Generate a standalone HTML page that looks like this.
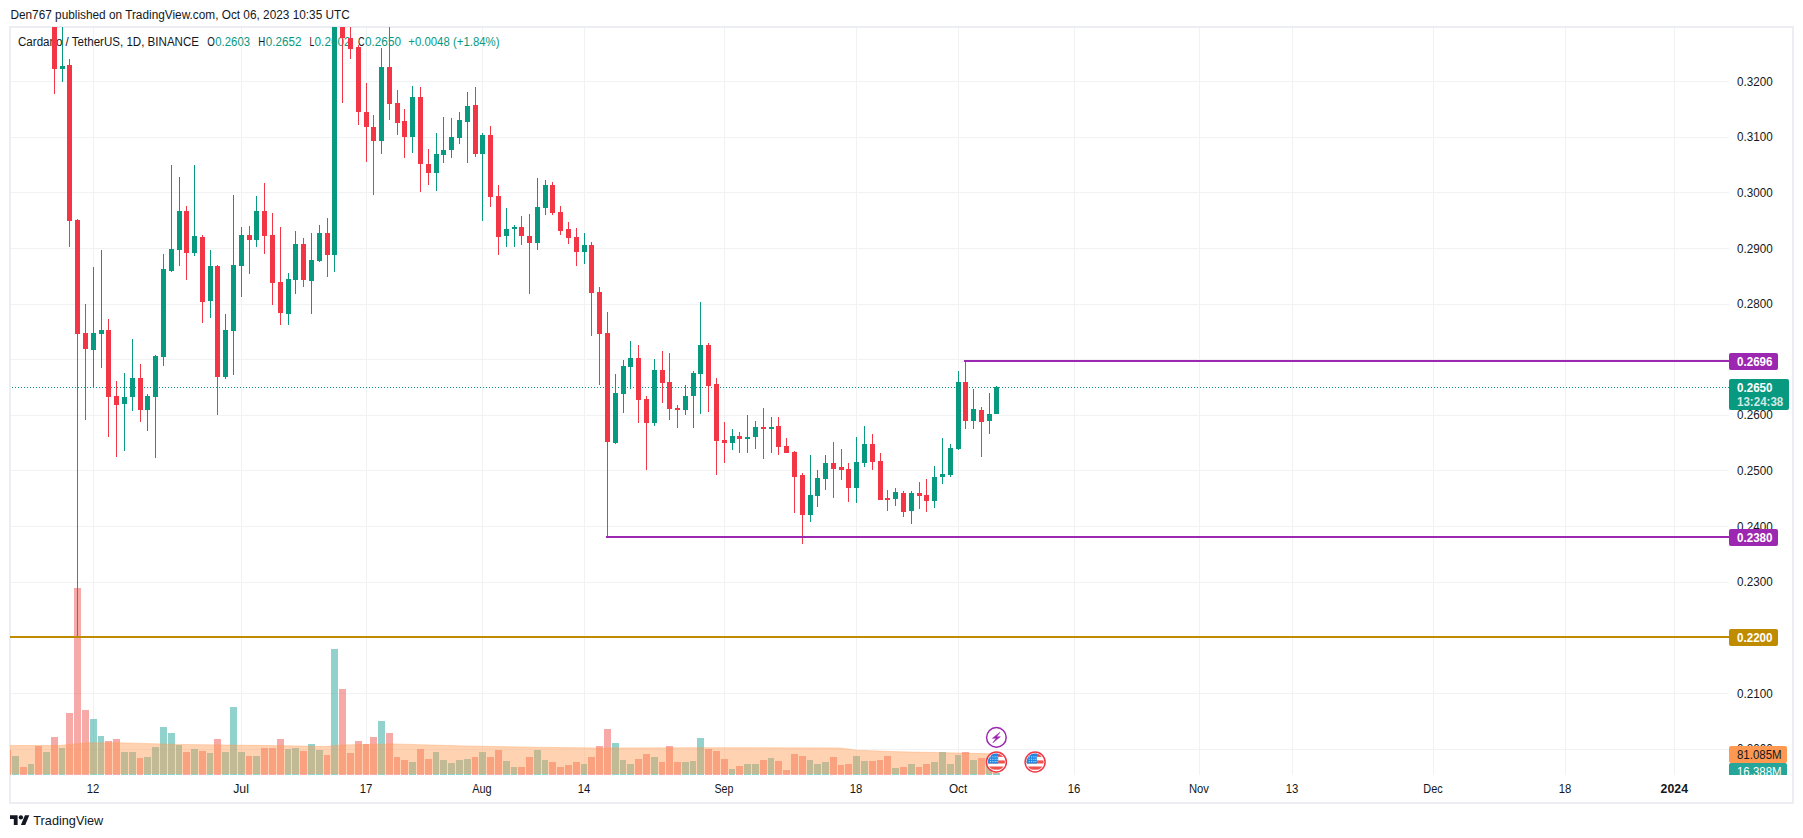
<!DOCTYPE html>
<html lang="en"><head><meta charset="utf-8"><title>Cardano / TetherUS chart</title>
<style>html,body{margin:0;padding:0;background:#fff;}body{width:1803px;height:838px;overflow:hidden;}svg{display:block;}</style>
</head><body>
<svg width="1803" height="838" viewBox="0 0 1803 838" font-family="'Liberation Sans', sans-serif" font-size="12">
<rect width="1803" height="838" fill="#fff"/>
<defs>
<clipPath id="pane"><rect x="10" y="27" width="1719" height="748"/></clipPath>
<clipPath id="axisclip"><rect x="1729" y="28" width="63" height="747"/></clipPath>
<clipPath id="flagclip"><circle cx="0" cy="0" r="8.5"/></clipPath>
</defs>
<text x="10.4" y="18.7" fill="#131722" textLength="339.4" lengthAdjust="spacingAndGlyphs">Den767 published on TradingView.com, Oct 06, 2023 10:35 UTC</text>
<rect x="10" y="27" width="1783" height="776" fill="none" stroke="#eceef3" stroke-width="2"/>
<g shape-rendering="crispEdges" fill="#f0f2f4">
<rect x="93" y="28" width="1" height="747"/>
<rect x="241" y="28" width="1" height="747"/>
<rect x="366" y="28" width="1" height="747"/>
<rect x="482" y="28" width="1" height="747"/>
<rect x="584" y="28" width="1" height="747"/>
<rect x="724" y="28" width="1" height="747"/>
<rect x="856" y="28" width="1" height="747"/>
<rect x="958" y="28" width="1" height="747"/>
<rect x="1074" y="28" width="1" height="747"/>
<rect x="1199" y="28" width="1" height="747"/>
<rect x="1292" y="28" width="1" height="747"/>
<rect x="1433" y="28" width="1" height="747"/>
<rect x="1565" y="28" width="1" height="747"/>
<rect x="1674" y="28" width="1" height="747"/>
<rect x="11" y="81" width="1718" height="1"/>
<rect x="11" y="137" width="1718" height="1"/>
<rect x="11" y="192" width="1718" height="1"/>
<rect x="11" y="248" width="1718" height="1"/>
<rect x="11" y="304" width="1718" height="1"/>
<rect x="11" y="359" width="1718" height="1"/>
<rect x="11" y="415" width="1718" height="1"/>
<rect x="11" y="470" width="1718" height="1"/>
<rect x="11" y="526" width="1718" height="1"/>
<rect x="11" y="582" width="1718" height="1"/>
<rect x="11" y="637" width="1718" height="1"/>
<rect x="11" y="693" width="1718" height="1"/>
<rect x="11" y="749" width="1718" height="1"/>
</g>
<text x="18" y="45.9" fill="#131722" textLength="181" lengthAdjust="spacingAndGlyphs">Cardano / TetherUS, 1D, BINANCE</text>
<text x="207.2" y="45.9" fill="#131722" textLength="7.6" lengthAdjust="spacingAndGlyphs">O</text>
<text x="215.3" y="45.9" fill="#089981" textLength="34.7" lengthAdjust="spacingAndGlyphs">0.2603</text>
<text x="258.3" y="45.9" fill="#131722" textLength="7.0" lengthAdjust="spacingAndGlyphs">H</text>
<text x="265.8" y="45.9" fill="#089981" textLength="35.6" lengthAdjust="spacingAndGlyphs">0.2652</text>
<text x="309.4" y="45.9" fill="#131722" textLength="4.8" lengthAdjust="spacingAndGlyphs">L</text>
<text x="314.6" y="45.9" fill="#089981" textLength="35.9" lengthAdjust="spacingAndGlyphs">0.2602</text>
<text x="358" y="45.9" fill="#131722" textLength="6.6" lengthAdjust="spacingAndGlyphs">C</text>
<text x="365" y="45.9" fill="#089981" textLength="36" lengthAdjust="spacingAndGlyphs">0.2650</text>
<text x="408.3" y="45.9" fill="#089981" textLength="91.2" lengthAdjust="spacingAndGlyphs">+0.0048 (+1.84%)</text>
<g clip-path="url(#pane)">
<g shape-rendering="crispEdges">
<rect x="4" y="750" width="7" height="25" fill="rgba(239,83,80,0.5)"/>
<rect x="12" y="756" width="7" height="19" fill="rgba(38,166,154,0.5)"/>
<rect x="20" y="767" width="7" height="8" fill="rgba(239,83,80,0.5)"/>
<rect x="28" y="764" width="6" height="11" fill="rgba(38,166,154,0.5)"/>
<rect x="35" y="746" width="7" height="29" fill="rgba(239,83,80,0.5)"/>
<rect x="43" y="752" width="7" height="23" fill="rgba(38,166,154,0.5)"/>
<rect x="51" y="737" width="7" height="38" fill="rgba(239,83,80,0.5)"/>
<rect x="59" y="748" width="6" height="27" fill="rgba(38,166,154,0.5)"/>
<rect x="66" y="713" width="7" height="62" fill="rgba(239,83,80,0.5)"/>
<rect x="74" y="588" width="7" height="187" fill="rgba(239,83,80,0.5)"/>
<rect x="82" y="710" width="7" height="65" fill="rgba(239,83,80,0.5)"/>
<rect x="90" y="719" width="7" height="56" fill="rgba(38,166,154,0.5)"/>
<rect x="98" y="736" width="6" height="39" fill="rgba(38,166,154,0.5)"/>
<rect x="105" y="741" width="7" height="34" fill="rgba(239,83,80,0.5)"/>
<rect x="113" y="739" width="7" height="36" fill="rgba(239,83,80,0.5)"/>
<rect x="121" y="752" width="7" height="23" fill="rgba(38,166,154,0.5)"/>
<rect x="129" y="752" width="7" height="23" fill="rgba(38,166,154,0.5)"/>
<rect x="137" y="758" width="6" height="17" fill="rgba(239,83,80,0.5)"/>
<rect x="144" y="757" width="7" height="18" fill="rgba(38,166,154,0.5)"/>
<rect x="152" y="747" width="7" height="28" fill="rgba(38,166,154,0.5)"/>
<rect x="160" y="727" width="7" height="48" fill="rgba(38,166,154,0.5)"/>
<rect x="168" y="733" width="7" height="42" fill="rgba(38,166,154,0.5)"/>
<rect x="176" y="745" width="6" height="30" fill="rgba(38,166,154,0.5)"/>
<rect x="183" y="752" width="7" height="23" fill="rgba(239,83,80,0.5)"/>
<rect x="191" y="749" width="7" height="26" fill="rgba(38,166,154,0.5)"/>
<rect x="199" y="751" width="7" height="24" fill="rgba(239,83,80,0.5)"/>
<rect x="207" y="753" width="6" height="22" fill="rgba(38,166,154,0.5)"/>
<rect x="214" y="739" width="7" height="36" fill="rgba(239,83,80,0.5)"/>
<rect x="222" y="752" width="7" height="23" fill="rgba(38,166,154,0.5)"/>
<rect x="230" y="707" width="7" height="68" fill="rgba(38,166,154,0.5)"/>
<rect x="238" y="752" width="7" height="23" fill="rgba(38,166,154,0.5)"/>
<rect x="246" y="756" width="6" height="19" fill="rgba(239,83,80,0.5)"/>
<rect x="253" y="756" width="7" height="19" fill="rgba(38,166,154,0.5)"/>
<rect x="261" y="748" width="7" height="27" fill="rgba(239,83,80,0.5)"/>
<rect x="269" y="748" width="7" height="27" fill="rgba(239,83,80,0.5)"/>
<rect x="277" y="739" width="7" height="36" fill="rgba(239,83,80,0.5)"/>
<rect x="285" y="749" width="6" height="26" fill="rgba(38,166,154,0.5)"/>
<rect x="292" y="748" width="7" height="27" fill="rgba(38,166,154,0.5)"/>
<rect x="300" y="751" width="7" height="24" fill="rgba(239,83,80,0.5)"/>
<rect x="308" y="744" width="7" height="31" fill="rgba(38,166,154,0.5)"/>
<rect x="316" y="750" width="7" height="25" fill="rgba(38,166,154,0.5)"/>
<rect x="324" y="755" width="6" height="20" fill="rgba(239,83,80,0.5)"/>
<rect x="331" y="649" width="7" height="126" fill="rgba(38,166,154,0.5)"/>
<rect x="339" y="689" width="7" height="86" fill="rgba(239,83,80,0.5)"/>
<rect x="347" y="753" width="7" height="22" fill="rgba(239,83,80,0.5)"/>
<rect x="355" y="741" width="7" height="34" fill="rgba(239,83,80,0.5)"/>
<rect x="363" y="744" width="6" height="31" fill="rgba(239,83,80,0.5)"/>
<rect x="370" y="737" width="7" height="38" fill="rgba(239,83,80,0.5)"/>
<rect x="378" y="721" width="7" height="54" fill="rgba(38,166,154,0.5)"/>
<rect x="386" y="733" width="7" height="42" fill="rgba(239,83,80,0.5)"/>
<rect x="394" y="757" width="6" height="18" fill="rgba(239,83,80,0.5)"/>
<rect x="401" y="760" width="7" height="15" fill="rgba(239,83,80,0.5)"/>
<rect x="409" y="762" width="7" height="13" fill="rgba(38,166,154,0.5)"/>
<rect x="417" y="749" width="7" height="26" fill="rgba(239,83,80,0.5)"/>
<rect x="425" y="759" width="7" height="16" fill="rgba(239,83,80,0.5)"/>
<rect x="433" y="752" width="6" height="23" fill="rgba(38,166,154,0.5)"/>
<rect x="440" y="760" width="7" height="15" fill="rgba(38,166,154,0.5)"/>
<rect x="448" y="763" width="7" height="12" fill="rgba(38,166,154,0.5)"/>
<rect x="456" y="760" width="7" height="15" fill="rgba(38,166,154,0.5)"/>
<rect x="464" y="759" width="7" height="16" fill="rgba(38,166,154,0.5)"/>
<rect x="472" y="757" width="6" height="18" fill="rgba(239,83,80,0.5)"/>
<rect x="479" y="752" width="7" height="23" fill="rgba(38,166,154,0.5)"/>
<rect x="487" y="757" width="7" height="18" fill="rgba(239,83,80,0.5)"/>
<rect x="495" y="750" width="7" height="25" fill="rgba(239,83,80,0.5)"/>
<rect x="503" y="761" width="7" height="14" fill="rgba(38,166,154,0.5)"/>
<rect x="511" y="767" width="6" height="8" fill="rgba(38,166,154,0.5)"/>
<rect x="518" y="767" width="7" height="8" fill="rgba(239,83,80,0.5)"/>
<rect x="526" y="757" width="7" height="18" fill="rgba(239,83,80,0.5)"/>
<rect x="534" y="750" width="7" height="25" fill="rgba(38,166,154,0.5)"/>
<rect x="542" y="760" width="6" height="15" fill="rgba(38,166,154,0.5)"/>
<rect x="549" y="762" width="7" height="13" fill="rgba(239,83,80,0.5)"/>
<rect x="557" y="767" width="7" height="8" fill="rgba(239,83,80,0.5)"/>
<rect x="565" y="765" width="7" height="10" fill="rgba(239,83,80,0.5)"/>
<rect x="573" y="762" width="7" height="13" fill="rgba(239,83,80,0.5)"/>
<rect x="581" y="764" width="6" height="11" fill="rgba(38,166,154,0.5)"/>
<rect x="588" y="757" width="7" height="18" fill="rgba(239,83,80,0.5)"/>
<rect x="596" y="746" width="7" height="29" fill="rgba(239,83,80,0.5)"/>
<rect x="604" y="729" width="7" height="46" fill="rgba(239,83,80,0.5)"/>
<rect x="612" y="743" width="7" height="32" fill="rgba(38,166,154,0.5)"/>
<rect x="620" y="760" width="6" height="15" fill="rgba(38,166,154,0.5)"/>
<rect x="627" y="764" width="7" height="11" fill="rgba(38,166,154,0.5)"/>
<rect x="635" y="759" width="7" height="16" fill="rgba(239,83,80,0.5)"/>
<rect x="643" y="754" width="7" height="21" fill="rgba(239,83,80,0.5)"/>
<rect x="651" y="757" width="7" height="18" fill="rgba(38,166,154,0.5)"/>
<rect x="659" y="762" width="6" height="13" fill="rgba(239,83,80,0.5)"/>
<rect x="666" y="746" width="7" height="29" fill="rgba(239,83,80,0.5)"/>
<rect x="674" y="762" width="7" height="13" fill="rgba(239,83,80,0.5)"/>
<rect x="682" y="762" width="7" height="13" fill="rgba(38,166,154,0.5)"/>
<rect x="690" y="761" width="6" height="14" fill="rgba(38,166,154,0.5)"/>
<rect x="697" y="738" width="7" height="37" fill="rgba(38,166,154,0.5)"/>
<rect x="705" y="749" width="7" height="26" fill="rgba(239,83,80,0.5)"/>
<rect x="713" y="751" width="7" height="24" fill="rgba(239,83,80,0.5)"/>
<rect x="721" y="759" width="7" height="16" fill="rgba(239,83,80,0.5)"/>
<rect x="729" y="769" width="6" height="6" fill="rgba(38,166,154,0.5)"/>
<rect x="736" y="766" width="7" height="9" fill="rgba(239,83,80,0.5)"/>
<rect x="744" y="764" width="7" height="11" fill="rgba(38,166,154,0.5)"/>
<rect x="752" y="764" width="7" height="11" fill="rgba(38,166,154,0.5)"/>
<rect x="760" y="760" width="7" height="15" fill="rgba(239,83,80,0.5)"/>
<rect x="768" y="758" width="6" height="17" fill="rgba(38,166,154,0.5)"/>
<rect x="775" y="761" width="7" height="14" fill="rgba(239,83,80,0.5)"/>
<rect x="783" y="770" width="7" height="5" fill="rgba(239,83,80,0.5)"/>
<rect x="791" y="754" width="7" height="21" fill="rgba(239,83,80,0.5)"/>
<rect x="799" y="756" width="7" height="19" fill="rgba(239,83,80,0.5)"/>
<rect x="807" y="760" width="6" height="15" fill="rgba(38,166,154,0.5)"/>
<rect x="814" y="764" width="7" height="11" fill="rgba(38,166,154,0.5)"/>
<rect x="822" y="762" width="7" height="13" fill="rgba(38,166,154,0.5)"/>
<rect x="830" y="757" width="7" height="18" fill="rgba(239,83,80,0.5)"/>
<rect x="838" y="765" width="6" height="10" fill="rgba(239,83,80,0.5)"/>
<rect x="845" y="764" width="7" height="11" fill="rgba(239,83,80,0.5)"/>
<rect x="853" y="756" width="7" height="19" fill="rgba(38,166,154,0.5)"/>
<rect x="861" y="761" width="7" height="14" fill="rgba(38,166,154,0.5)"/>
<rect x="869" y="761" width="7" height="14" fill="rgba(239,83,80,0.5)"/>
<rect x="877" y="760" width="6" height="15" fill="rgba(239,83,80,0.5)"/>
<rect x="884" y="756" width="7" height="19" fill="rgba(239,83,80,0.5)"/>
<rect x="892" y="768" width="7" height="7" fill="rgba(38,166,154,0.5)"/>
<rect x="900" y="767" width="7" height="8" fill="rgba(239,83,80,0.5)"/>
<rect x="908" y="764" width="7" height="11" fill="rgba(38,166,154,0.5)"/>
<rect x="916" y="767" width="6" height="8" fill="rgba(239,83,80,0.5)"/>
<rect x="923" y="764" width="7" height="11" fill="rgba(239,83,80,0.5)"/>
<rect x="931" y="762" width="7" height="13" fill="rgba(38,166,154,0.5)"/>
<rect x="939" y="752" width="7" height="23" fill="rgba(38,166,154,0.5)"/>
<rect x="947" y="764" width="7" height="11" fill="rgba(38,166,154,0.5)"/>
<rect x="955" y="755" width="6" height="20" fill="rgba(38,166,154,0.5)"/>
<rect x="962" y="752" width="7" height="23" fill="rgba(239,83,80,0.5)"/>
<rect x="970" y="760" width="7" height="15" fill="rgba(38,166,154,0.5)"/>
<rect x="978" y="758" width="7" height="17" fill="rgba(239,83,80,0.5)"/>
<rect x="986" y="758" width="6" height="17" fill="rgba(38,166,154,0.5)"/>
<rect x="993" y="773" width="7" height="2" fill="rgba(38,166,154,0.5)"/>
</g>
<polygon points="10,745.6 60,745.4 72,744.2 85,742.9 118,742.7 177,744.4 244,745.2 300,746 325,746.6 342,744.9 392,743.9 467,746 534,747.2 600,748.0 700,747.7 840,747.9 848,749.0 857,750.2 900,751.8 984,753.6 997,754 997,774 10,774" fill="rgba(255,152,80,0.44)"/>
<polyline points="10,745.6 60,745.4 72,744.2 85,742.9 118,742.7 177,744.4 244,745.2 300,746 325,746.6 342,744.9 392,743.9 467,746 534,747.2 600,748.0 700,747.7 840,747.9 848,749.0 857,750.2 900,751.8 984,753.6 997,754" fill="none" stroke="rgba(255,152,80,0.35)" stroke-width="1"/>
<g shape-rendering="crispEdges">
<g fill="#089981"><rect x="12" y="387" width="1" height="1"/><rect x="15" y="387" width="1" height="1"/><rect x="18" y="387" width="1" height="1"/><rect x="21" y="387" width="1" height="1"/><rect x="24" y="387" width="1" height="1"/><rect x="27" y="387" width="1" height="1"/><rect x="30" y="387" width="1" height="1"/><rect x="33" y="387" width="1" height="1"/><rect x="36" y="387" width="1" height="1"/><rect x="39" y="387" width="1" height="1"/><rect x="42" y="387" width="1" height="1"/><rect x="45" y="387" width="1" height="1"/><rect x="48" y="387" width="1" height="1"/><rect x="51" y="387" width="1" height="1"/><rect x="54" y="387" width="1" height="1"/><rect x="57" y="387" width="1" height="1"/><rect x="60" y="387" width="1" height="1"/><rect x="63" y="387" width="1" height="1"/><rect x="66" y="387" width="1" height="1"/><rect x="69" y="387" width="1" height="1"/><rect x="72" y="387" width="1" height="1"/><rect x="75" y="387" width="1" height="1"/><rect x="78" y="387" width="1" height="1"/><rect x="81" y="387" width="1" height="1"/><rect x="84" y="387" width="1" height="1"/><rect x="87" y="387" width="1" height="1"/><rect x="90" y="387" width="1" height="1"/><rect x="93" y="387" width="1" height="1"/><rect x="96" y="387" width="1" height="1"/><rect x="99" y="387" width="1" height="1"/><rect x="102" y="387" width="1" height="1"/><rect x="105" y="387" width="1" height="1"/><rect x="108" y="387" width="1" height="1"/><rect x="111" y="387" width="1" height="1"/><rect x="114" y="387" width="1" height="1"/><rect x="117" y="387" width="1" height="1"/><rect x="120" y="387" width="1" height="1"/><rect x="123" y="387" width="1" height="1"/><rect x="126" y="387" width="1" height="1"/><rect x="129" y="387" width="1" height="1"/><rect x="132" y="387" width="1" height="1"/><rect x="135" y="387" width="1" height="1"/><rect x="138" y="387" width="1" height="1"/><rect x="141" y="387" width="1" height="1"/><rect x="144" y="387" width="1" height="1"/><rect x="147" y="387" width="1" height="1"/><rect x="150" y="387" width="1" height="1"/><rect x="153" y="387" width="1" height="1"/><rect x="156" y="387" width="1" height="1"/><rect x="159" y="387" width="1" height="1"/><rect x="162" y="387" width="1" height="1"/><rect x="165" y="387" width="1" height="1"/><rect x="168" y="387" width="1" height="1"/><rect x="171" y="387" width="1" height="1"/><rect x="174" y="387" width="1" height="1"/><rect x="177" y="387" width="1" height="1"/><rect x="180" y="387" width="1" height="1"/><rect x="183" y="387" width="1" height="1"/><rect x="186" y="387" width="1" height="1"/><rect x="189" y="387" width="1" height="1"/><rect x="192" y="387" width="1" height="1"/><rect x="195" y="387" width="1" height="1"/><rect x="198" y="387" width="1" height="1"/><rect x="201" y="387" width="1" height="1"/><rect x="204" y="387" width="1" height="1"/><rect x="207" y="387" width="1" height="1"/><rect x="210" y="387" width="1" height="1"/><rect x="213" y="387" width="1" height="1"/><rect x="216" y="387" width="1" height="1"/><rect x="219" y="387" width="1" height="1"/><rect x="222" y="387" width="1" height="1"/><rect x="225" y="387" width="1" height="1"/><rect x="228" y="387" width="1" height="1"/><rect x="231" y="387" width="1" height="1"/><rect x="234" y="387" width="1" height="1"/><rect x="237" y="387" width="1" height="1"/><rect x="240" y="387" width="1" height="1"/><rect x="243" y="387" width="1" height="1"/><rect x="246" y="387" width="1" height="1"/><rect x="249" y="387" width="1" height="1"/><rect x="252" y="387" width="1" height="1"/><rect x="255" y="387" width="1" height="1"/><rect x="258" y="387" width="1" height="1"/><rect x="261" y="387" width="1" height="1"/><rect x="264" y="387" width="1" height="1"/><rect x="267" y="387" width="1" height="1"/><rect x="270" y="387" width="1" height="1"/><rect x="273" y="387" width="1" height="1"/><rect x="276" y="387" width="1" height="1"/><rect x="279" y="387" width="1" height="1"/><rect x="282" y="387" width="1" height="1"/><rect x="285" y="387" width="1" height="1"/><rect x="288" y="387" width="1" height="1"/><rect x="291" y="387" width="1" height="1"/><rect x="294" y="387" width="1" height="1"/><rect x="297" y="387" width="1" height="1"/><rect x="300" y="387" width="1" height="1"/><rect x="303" y="387" width="1" height="1"/><rect x="306" y="387" width="1" height="1"/><rect x="309" y="387" width="1" height="1"/><rect x="312" y="387" width="1" height="1"/><rect x="315" y="387" width="1" height="1"/><rect x="318" y="387" width="1" height="1"/><rect x="321" y="387" width="1" height="1"/><rect x="324" y="387" width="1" height="1"/><rect x="327" y="387" width="1" height="1"/><rect x="330" y="387" width="1" height="1"/><rect x="333" y="387" width="1" height="1"/><rect x="336" y="387" width="1" height="1"/><rect x="339" y="387" width="1" height="1"/><rect x="342" y="387" width="1" height="1"/><rect x="345" y="387" width="1" height="1"/><rect x="348" y="387" width="1" height="1"/><rect x="351" y="387" width="1" height="1"/><rect x="354" y="387" width="1" height="1"/><rect x="357" y="387" width="1" height="1"/><rect x="360" y="387" width="1" height="1"/><rect x="363" y="387" width="1" height="1"/><rect x="366" y="387" width="1" height="1"/><rect x="369" y="387" width="1" height="1"/><rect x="372" y="387" width="1" height="1"/><rect x="375" y="387" width="1" height="1"/><rect x="378" y="387" width="1" height="1"/><rect x="381" y="387" width="1" height="1"/><rect x="384" y="387" width="1" height="1"/><rect x="387" y="387" width="1" height="1"/><rect x="390" y="387" width="1" height="1"/><rect x="393" y="387" width="1" height="1"/><rect x="396" y="387" width="1" height="1"/><rect x="399" y="387" width="1" height="1"/><rect x="402" y="387" width="1" height="1"/><rect x="405" y="387" width="1" height="1"/><rect x="408" y="387" width="1" height="1"/><rect x="411" y="387" width="1" height="1"/><rect x="414" y="387" width="1" height="1"/><rect x="417" y="387" width="1" height="1"/><rect x="420" y="387" width="1" height="1"/><rect x="423" y="387" width="1" height="1"/><rect x="426" y="387" width="1" height="1"/><rect x="429" y="387" width="1" height="1"/><rect x="432" y="387" width="1" height="1"/><rect x="435" y="387" width="1" height="1"/><rect x="438" y="387" width="1" height="1"/><rect x="441" y="387" width="1" height="1"/><rect x="444" y="387" width="1" height="1"/><rect x="447" y="387" width="1" height="1"/><rect x="450" y="387" width="1" height="1"/><rect x="453" y="387" width="1" height="1"/><rect x="456" y="387" width="1" height="1"/><rect x="459" y="387" width="1" height="1"/><rect x="462" y="387" width="1" height="1"/><rect x="465" y="387" width="1" height="1"/><rect x="468" y="387" width="1" height="1"/><rect x="471" y="387" width="1" height="1"/><rect x="474" y="387" width="1" height="1"/><rect x="477" y="387" width="1" height="1"/><rect x="480" y="387" width="1" height="1"/><rect x="483" y="387" width="1" height="1"/><rect x="486" y="387" width="1" height="1"/><rect x="489" y="387" width="1" height="1"/><rect x="492" y="387" width="1" height="1"/><rect x="495" y="387" width="1" height="1"/><rect x="498" y="387" width="1" height="1"/><rect x="501" y="387" width="1" height="1"/><rect x="504" y="387" width="1" height="1"/><rect x="507" y="387" width="1" height="1"/><rect x="510" y="387" width="1" height="1"/><rect x="513" y="387" width="1" height="1"/><rect x="516" y="387" width="1" height="1"/><rect x="519" y="387" width="1" height="1"/><rect x="522" y="387" width="1" height="1"/><rect x="525" y="387" width="1" height="1"/><rect x="528" y="387" width="1" height="1"/><rect x="531" y="387" width="1" height="1"/><rect x="534" y="387" width="1" height="1"/><rect x="537" y="387" width="1" height="1"/><rect x="540" y="387" width="1" height="1"/><rect x="543" y="387" width="1" height="1"/><rect x="546" y="387" width="1" height="1"/><rect x="549" y="387" width="1" height="1"/><rect x="552" y="387" width="1" height="1"/><rect x="555" y="387" width="1" height="1"/><rect x="558" y="387" width="1" height="1"/><rect x="561" y="387" width="1" height="1"/><rect x="564" y="387" width="1" height="1"/><rect x="567" y="387" width="1" height="1"/><rect x="570" y="387" width="1" height="1"/><rect x="573" y="387" width="1" height="1"/><rect x="576" y="387" width="1" height="1"/><rect x="579" y="387" width="1" height="1"/><rect x="582" y="387" width="1" height="1"/><rect x="585" y="387" width="1" height="1"/><rect x="588" y="387" width="1" height="1"/><rect x="591" y="387" width="1" height="1"/><rect x="594" y="387" width="1" height="1"/><rect x="597" y="387" width="1" height="1"/><rect x="600" y="387" width="1" height="1"/><rect x="603" y="387" width="1" height="1"/><rect x="606" y="387" width="1" height="1"/><rect x="609" y="387" width="1" height="1"/><rect x="612" y="387" width="1" height="1"/><rect x="615" y="387" width="1" height="1"/><rect x="618" y="387" width="1" height="1"/><rect x="621" y="387" width="1" height="1"/><rect x="624" y="387" width="1" height="1"/><rect x="627" y="387" width="1" height="1"/><rect x="630" y="387" width="1" height="1"/><rect x="633" y="387" width="1" height="1"/><rect x="636" y="387" width="1" height="1"/><rect x="639" y="387" width="1" height="1"/><rect x="642" y="387" width="1" height="1"/><rect x="645" y="387" width="1" height="1"/><rect x="648" y="387" width="1" height="1"/><rect x="651" y="387" width="1" height="1"/><rect x="654" y="387" width="1" height="1"/><rect x="657" y="387" width="1" height="1"/><rect x="660" y="387" width="1" height="1"/><rect x="663" y="387" width="1" height="1"/><rect x="666" y="387" width="1" height="1"/><rect x="669" y="387" width="1" height="1"/><rect x="672" y="387" width="1" height="1"/><rect x="675" y="387" width="1" height="1"/><rect x="678" y="387" width="1" height="1"/><rect x="681" y="387" width="1" height="1"/><rect x="684" y="387" width="1" height="1"/><rect x="687" y="387" width="1" height="1"/><rect x="690" y="387" width="1" height="1"/><rect x="693" y="387" width="1" height="1"/><rect x="696" y="387" width="1" height="1"/><rect x="699" y="387" width="1" height="1"/><rect x="702" y="387" width="1" height="1"/><rect x="705" y="387" width="1" height="1"/><rect x="708" y="387" width="1" height="1"/><rect x="711" y="387" width="1" height="1"/><rect x="714" y="387" width="1" height="1"/><rect x="717" y="387" width="1" height="1"/><rect x="720" y="387" width="1" height="1"/><rect x="723" y="387" width="1" height="1"/><rect x="726" y="387" width="1" height="1"/><rect x="729" y="387" width="1" height="1"/><rect x="732" y="387" width="1" height="1"/><rect x="735" y="387" width="1" height="1"/><rect x="738" y="387" width="1" height="1"/><rect x="741" y="387" width="1" height="1"/><rect x="744" y="387" width="1" height="1"/><rect x="747" y="387" width="1" height="1"/><rect x="750" y="387" width="1" height="1"/><rect x="753" y="387" width="1" height="1"/><rect x="756" y="387" width="1" height="1"/><rect x="759" y="387" width="1" height="1"/><rect x="762" y="387" width="1" height="1"/><rect x="765" y="387" width="1" height="1"/><rect x="768" y="387" width="1" height="1"/><rect x="771" y="387" width="1" height="1"/><rect x="774" y="387" width="1" height="1"/><rect x="777" y="387" width="1" height="1"/><rect x="780" y="387" width="1" height="1"/><rect x="783" y="387" width="1" height="1"/><rect x="786" y="387" width="1" height="1"/><rect x="789" y="387" width="1" height="1"/><rect x="792" y="387" width="1" height="1"/><rect x="795" y="387" width="1" height="1"/><rect x="798" y="387" width="1" height="1"/><rect x="801" y="387" width="1" height="1"/><rect x="804" y="387" width="1" height="1"/><rect x="807" y="387" width="1" height="1"/><rect x="810" y="387" width="1" height="1"/><rect x="813" y="387" width="1" height="1"/><rect x="816" y="387" width="1" height="1"/><rect x="819" y="387" width="1" height="1"/><rect x="822" y="387" width="1" height="1"/><rect x="825" y="387" width="1" height="1"/><rect x="828" y="387" width="1" height="1"/><rect x="831" y="387" width="1" height="1"/><rect x="834" y="387" width="1" height="1"/><rect x="837" y="387" width="1" height="1"/><rect x="840" y="387" width="1" height="1"/><rect x="843" y="387" width="1" height="1"/><rect x="846" y="387" width="1" height="1"/><rect x="849" y="387" width="1" height="1"/><rect x="852" y="387" width="1" height="1"/><rect x="855" y="387" width="1" height="1"/><rect x="858" y="387" width="1" height="1"/><rect x="861" y="387" width="1" height="1"/><rect x="864" y="387" width="1" height="1"/><rect x="867" y="387" width="1" height="1"/><rect x="870" y="387" width="1" height="1"/><rect x="873" y="387" width="1" height="1"/><rect x="876" y="387" width="1" height="1"/><rect x="879" y="387" width="1" height="1"/><rect x="882" y="387" width="1" height="1"/><rect x="885" y="387" width="1" height="1"/><rect x="888" y="387" width="1" height="1"/><rect x="891" y="387" width="1" height="1"/><rect x="894" y="387" width="1" height="1"/><rect x="897" y="387" width="1" height="1"/><rect x="900" y="387" width="1" height="1"/><rect x="903" y="387" width="1" height="1"/><rect x="906" y="387" width="1" height="1"/><rect x="909" y="387" width="1" height="1"/><rect x="912" y="387" width="1" height="1"/><rect x="915" y="387" width="1" height="1"/><rect x="918" y="387" width="1" height="1"/><rect x="921" y="387" width="1" height="1"/><rect x="924" y="387" width="1" height="1"/><rect x="927" y="387" width="1" height="1"/><rect x="930" y="387" width="1" height="1"/><rect x="933" y="387" width="1" height="1"/><rect x="936" y="387" width="1" height="1"/><rect x="939" y="387" width="1" height="1"/><rect x="942" y="387" width="1" height="1"/><rect x="945" y="387" width="1" height="1"/><rect x="948" y="387" width="1" height="1"/><rect x="951" y="387" width="1" height="1"/><rect x="954" y="387" width="1" height="1"/><rect x="957" y="387" width="1" height="1"/><rect x="960" y="387" width="1" height="1"/><rect x="963" y="387" width="1" height="1"/><rect x="966" y="387" width="1" height="1"/><rect x="969" y="387" width="1" height="1"/><rect x="972" y="387" width="1" height="1"/><rect x="975" y="387" width="1" height="1"/><rect x="978" y="387" width="1" height="1"/><rect x="981" y="387" width="1" height="1"/><rect x="984" y="387" width="1" height="1"/><rect x="987" y="387" width="1" height="1"/><rect x="990" y="387" width="1" height="1"/><rect x="993" y="387" width="1" height="1"/><rect x="996" y="387" width="1" height="1"/><rect x="999" y="387" width="1" height="1"/><rect x="1002" y="387" width="1" height="1"/><rect x="1005" y="387" width="1" height="1"/><rect x="1008" y="387" width="1" height="1"/><rect x="1011" y="387" width="1" height="1"/><rect x="1014" y="387" width="1" height="1"/><rect x="1017" y="387" width="1" height="1"/><rect x="1020" y="387" width="1" height="1"/><rect x="1023" y="387" width="1" height="1"/><rect x="1026" y="387" width="1" height="1"/><rect x="1029" y="387" width="1" height="1"/><rect x="1032" y="387" width="1" height="1"/><rect x="1035" y="387" width="1" height="1"/><rect x="1038" y="387" width="1" height="1"/><rect x="1041" y="387" width="1" height="1"/><rect x="1044" y="387" width="1" height="1"/><rect x="1047" y="387" width="1" height="1"/><rect x="1050" y="387" width="1" height="1"/><rect x="1053" y="387" width="1" height="1"/><rect x="1056" y="387" width="1" height="1"/><rect x="1059" y="387" width="1" height="1"/><rect x="1062" y="387" width="1" height="1"/><rect x="1065" y="387" width="1" height="1"/><rect x="1068" y="387" width="1" height="1"/><rect x="1071" y="387" width="1" height="1"/><rect x="1074" y="387" width="1" height="1"/><rect x="1077" y="387" width="1" height="1"/><rect x="1080" y="387" width="1" height="1"/><rect x="1083" y="387" width="1" height="1"/><rect x="1086" y="387" width="1" height="1"/><rect x="1089" y="387" width="1" height="1"/><rect x="1092" y="387" width="1" height="1"/><rect x="1095" y="387" width="1" height="1"/><rect x="1098" y="387" width="1" height="1"/><rect x="1101" y="387" width="1" height="1"/><rect x="1104" y="387" width="1" height="1"/><rect x="1107" y="387" width="1" height="1"/><rect x="1110" y="387" width="1" height="1"/><rect x="1113" y="387" width="1" height="1"/><rect x="1116" y="387" width="1" height="1"/><rect x="1119" y="387" width="1" height="1"/><rect x="1122" y="387" width="1" height="1"/><rect x="1125" y="387" width="1" height="1"/><rect x="1128" y="387" width="1" height="1"/><rect x="1131" y="387" width="1" height="1"/><rect x="1134" y="387" width="1" height="1"/><rect x="1137" y="387" width="1" height="1"/><rect x="1140" y="387" width="1" height="1"/><rect x="1143" y="387" width="1" height="1"/><rect x="1146" y="387" width="1" height="1"/><rect x="1149" y="387" width="1" height="1"/><rect x="1152" y="387" width="1" height="1"/><rect x="1155" y="387" width="1" height="1"/><rect x="1158" y="387" width="1" height="1"/><rect x="1161" y="387" width="1" height="1"/><rect x="1164" y="387" width="1" height="1"/><rect x="1167" y="387" width="1" height="1"/><rect x="1170" y="387" width="1" height="1"/><rect x="1173" y="387" width="1" height="1"/><rect x="1176" y="387" width="1" height="1"/><rect x="1179" y="387" width="1" height="1"/><rect x="1182" y="387" width="1" height="1"/><rect x="1185" y="387" width="1" height="1"/><rect x="1188" y="387" width="1" height="1"/><rect x="1191" y="387" width="1" height="1"/><rect x="1194" y="387" width="1" height="1"/><rect x="1197" y="387" width="1" height="1"/><rect x="1200" y="387" width="1" height="1"/><rect x="1203" y="387" width="1" height="1"/><rect x="1206" y="387" width="1" height="1"/><rect x="1209" y="387" width="1" height="1"/><rect x="1212" y="387" width="1" height="1"/><rect x="1215" y="387" width="1" height="1"/><rect x="1218" y="387" width="1" height="1"/><rect x="1221" y="387" width="1" height="1"/><rect x="1224" y="387" width="1" height="1"/><rect x="1227" y="387" width="1" height="1"/><rect x="1230" y="387" width="1" height="1"/><rect x="1233" y="387" width="1" height="1"/><rect x="1236" y="387" width="1" height="1"/><rect x="1239" y="387" width="1" height="1"/><rect x="1242" y="387" width="1" height="1"/><rect x="1245" y="387" width="1" height="1"/><rect x="1248" y="387" width="1" height="1"/><rect x="1251" y="387" width="1" height="1"/><rect x="1254" y="387" width="1" height="1"/><rect x="1257" y="387" width="1" height="1"/><rect x="1260" y="387" width="1" height="1"/><rect x="1263" y="387" width="1" height="1"/><rect x="1266" y="387" width="1" height="1"/><rect x="1269" y="387" width="1" height="1"/><rect x="1272" y="387" width="1" height="1"/><rect x="1275" y="387" width="1" height="1"/><rect x="1278" y="387" width="1" height="1"/><rect x="1281" y="387" width="1" height="1"/><rect x="1284" y="387" width="1" height="1"/><rect x="1287" y="387" width="1" height="1"/><rect x="1290" y="387" width="1" height="1"/><rect x="1293" y="387" width="1" height="1"/><rect x="1296" y="387" width="1" height="1"/><rect x="1299" y="387" width="1" height="1"/><rect x="1302" y="387" width="1" height="1"/><rect x="1305" y="387" width="1" height="1"/><rect x="1308" y="387" width="1" height="1"/><rect x="1311" y="387" width="1" height="1"/><rect x="1314" y="387" width="1" height="1"/><rect x="1317" y="387" width="1" height="1"/><rect x="1320" y="387" width="1" height="1"/><rect x="1323" y="387" width="1" height="1"/><rect x="1326" y="387" width="1" height="1"/><rect x="1329" y="387" width="1" height="1"/><rect x="1332" y="387" width="1" height="1"/><rect x="1335" y="387" width="1" height="1"/><rect x="1338" y="387" width="1" height="1"/><rect x="1341" y="387" width="1" height="1"/><rect x="1344" y="387" width="1" height="1"/><rect x="1347" y="387" width="1" height="1"/><rect x="1350" y="387" width="1" height="1"/><rect x="1353" y="387" width="1" height="1"/><rect x="1356" y="387" width="1" height="1"/><rect x="1359" y="387" width="1" height="1"/><rect x="1362" y="387" width="1" height="1"/><rect x="1365" y="387" width="1" height="1"/><rect x="1368" y="387" width="1" height="1"/><rect x="1371" y="387" width="1" height="1"/><rect x="1374" y="387" width="1" height="1"/><rect x="1377" y="387" width="1" height="1"/><rect x="1380" y="387" width="1" height="1"/><rect x="1383" y="387" width="1" height="1"/><rect x="1386" y="387" width="1" height="1"/><rect x="1389" y="387" width="1" height="1"/><rect x="1392" y="387" width="1" height="1"/><rect x="1395" y="387" width="1" height="1"/><rect x="1398" y="387" width="1" height="1"/><rect x="1401" y="387" width="1" height="1"/><rect x="1404" y="387" width="1" height="1"/><rect x="1407" y="387" width="1" height="1"/><rect x="1410" y="387" width="1" height="1"/><rect x="1413" y="387" width="1" height="1"/><rect x="1416" y="387" width="1" height="1"/><rect x="1419" y="387" width="1" height="1"/><rect x="1422" y="387" width="1" height="1"/><rect x="1425" y="387" width="1" height="1"/><rect x="1428" y="387" width="1" height="1"/><rect x="1431" y="387" width="1" height="1"/><rect x="1434" y="387" width="1" height="1"/><rect x="1437" y="387" width="1" height="1"/><rect x="1440" y="387" width="1" height="1"/><rect x="1443" y="387" width="1" height="1"/><rect x="1446" y="387" width="1" height="1"/><rect x="1449" y="387" width="1" height="1"/><rect x="1452" y="387" width="1" height="1"/><rect x="1455" y="387" width="1" height="1"/><rect x="1458" y="387" width="1" height="1"/><rect x="1461" y="387" width="1" height="1"/><rect x="1464" y="387" width="1" height="1"/><rect x="1467" y="387" width="1" height="1"/><rect x="1470" y="387" width="1" height="1"/><rect x="1473" y="387" width="1" height="1"/><rect x="1476" y="387" width="1" height="1"/><rect x="1479" y="387" width="1" height="1"/><rect x="1482" y="387" width="1" height="1"/><rect x="1485" y="387" width="1" height="1"/><rect x="1488" y="387" width="1" height="1"/><rect x="1491" y="387" width="1" height="1"/><rect x="1494" y="387" width="1" height="1"/><rect x="1497" y="387" width="1" height="1"/><rect x="1500" y="387" width="1" height="1"/><rect x="1503" y="387" width="1" height="1"/><rect x="1506" y="387" width="1" height="1"/><rect x="1509" y="387" width="1" height="1"/><rect x="1512" y="387" width="1" height="1"/><rect x="1515" y="387" width="1" height="1"/><rect x="1518" y="387" width="1" height="1"/><rect x="1521" y="387" width="1" height="1"/><rect x="1524" y="387" width="1" height="1"/><rect x="1527" y="387" width="1" height="1"/><rect x="1530" y="387" width="1" height="1"/><rect x="1533" y="387" width="1" height="1"/><rect x="1536" y="387" width="1" height="1"/><rect x="1539" y="387" width="1" height="1"/><rect x="1542" y="387" width="1" height="1"/><rect x="1545" y="387" width="1" height="1"/><rect x="1548" y="387" width="1" height="1"/><rect x="1551" y="387" width="1" height="1"/><rect x="1554" y="387" width="1" height="1"/><rect x="1557" y="387" width="1" height="1"/><rect x="1560" y="387" width="1" height="1"/><rect x="1563" y="387" width="1" height="1"/><rect x="1566" y="387" width="1" height="1"/><rect x="1569" y="387" width="1" height="1"/><rect x="1572" y="387" width="1" height="1"/><rect x="1575" y="387" width="1" height="1"/><rect x="1578" y="387" width="1" height="1"/><rect x="1581" y="387" width="1" height="1"/><rect x="1584" y="387" width="1" height="1"/><rect x="1587" y="387" width="1" height="1"/><rect x="1590" y="387" width="1" height="1"/><rect x="1593" y="387" width="1" height="1"/><rect x="1596" y="387" width="1" height="1"/><rect x="1599" y="387" width="1" height="1"/><rect x="1602" y="387" width="1" height="1"/><rect x="1605" y="387" width="1" height="1"/><rect x="1608" y="387" width="1" height="1"/><rect x="1611" y="387" width="1" height="1"/><rect x="1614" y="387" width="1" height="1"/><rect x="1617" y="387" width="1" height="1"/><rect x="1620" y="387" width="1" height="1"/><rect x="1623" y="387" width="1" height="1"/><rect x="1626" y="387" width="1" height="1"/><rect x="1629" y="387" width="1" height="1"/><rect x="1632" y="387" width="1" height="1"/><rect x="1635" y="387" width="1" height="1"/><rect x="1638" y="387" width="1" height="1"/><rect x="1641" y="387" width="1" height="1"/><rect x="1644" y="387" width="1" height="1"/><rect x="1647" y="387" width="1" height="1"/><rect x="1650" y="387" width="1" height="1"/><rect x="1653" y="387" width="1" height="1"/><rect x="1656" y="387" width="1" height="1"/><rect x="1659" y="387" width="1" height="1"/><rect x="1662" y="387" width="1" height="1"/><rect x="1665" y="387" width="1" height="1"/><rect x="1668" y="387" width="1" height="1"/><rect x="1671" y="387" width="1" height="1"/><rect x="1674" y="387" width="1" height="1"/><rect x="1677" y="387" width="1" height="1"/><rect x="1680" y="387" width="1" height="1"/><rect x="1683" y="387" width="1" height="1"/><rect x="1686" y="387" width="1" height="1"/><rect x="1689" y="387" width="1" height="1"/><rect x="1692" y="387" width="1" height="1"/><rect x="1695" y="387" width="1" height="1"/><rect x="1698" y="387" width="1" height="1"/><rect x="1701" y="387" width="1" height="1"/><rect x="1704" y="387" width="1" height="1"/><rect x="1707" y="387" width="1" height="1"/><rect x="1710" y="387" width="1" height="1"/><rect x="1713" y="387" width="1" height="1"/><rect x="1716" y="387" width="1" height="1"/><rect x="1719" y="387" width="1" height="1"/><rect x="1722" y="387" width="1" height="1"/><rect x="1725" y="387" width="1" height="1"/><rect x="1728" y="387" width="1" height="1"/></g>
<rect x="10" y="636" width="1719" height="2" fill="#bf8c00"/>
</g>
<g shape-rendering="crispEdges">
<rect x="54" y="20" width="1" height="74" fill="#f23645"/><rect x="52" y="20" width="5" height="49" fill="#f23645"/>
<rect x="62" y="20" width="1" height="62" fill="#089981"/><rect x="60" y="66" width="5" height="3" fill="#089981"/>
<rect x="69" y="59" width="1" height="188" fill="#f23645"/><rect x="67" y="65" width="5" height="156" fill="#f23645"/>
<rect x="77" y="219" width="1" height="417" fill="#f23645"/><rect x="75" y="220" width="5" height="114" fill="#f23645"/>
<rect x="85" y="304" width="1" height="116" fill="#f23645"/><rect x="83" y="333" width="5" height="16" fill="#f23645"/>
<rect x="93" y="267" width="1" height="120" fill="#089981"/><rect x="91" y="333" width="5" height="17" fill="#089981"/>
<rect x="101" y="250" width="1" height="118" fill="#089981"/><rect x="99" y="330" width="5" height="4" fill="#089981"/>
<rect x="108" y="319" width="1" height="118" fill="#f23645"/><rect x="106" y="330" width="5" height="67" fill="#f23645"/>
<rect x="116" y="381" width="1" height="76" fill="#f23645"/><rect x="114" y="396" width="5" height="9" fill="#f23645"/>
<rect x="124" y="373" width="1" height="78" fill="#089981"/><rect x="122" y="397" width="5" height="7" fill="#089981"/>
<rect x="132" y="339" width="1" height="72" fill="#089981"/><rect x="130" y="378" width="5" height="19" fill="#089981"/>
<rect x="140" y="364" width="1" height="58" fill="#f23645"/><rect x="138" y="378" width="5" height="32" fill="#f23645"/>
<rect x="147" y="394" width="1" height="37" fill="#089981"/><rect x="145" y="396" width="5" height="14" fill="#089981"/>
<rect x="155" y="355" width="1" height="103" fill="#089981"/><rect x="153" y="356" width="5" height="41" fill="#089981"/>
<rect x="163" y="254" width="1" height="112" fill="#089981"/><rect x="161" y="269" width="5" height="88" fill="#089981"/>
<rect x="171" y="165" width="1" height="107" fill="#089981"/><rect x="169" y="249" width="5" height="22" fill="#089981"/>
<rect x="179" y="177" width="1" height="89" fill="#089981"/><rect x="177" y="211" width="5" height="39" fill="#089981"/>
<rect x="186" y="206" width="1" height="74" fill="#f23645"/><rect x="184" y="211" width="5" height="42" fill="#f23645"/>
<rect x="194" y="165" width="1" height="91" fill="#089981"/><rect x="192" y="236" width="5" height="17" fill="#089981"/>
<rect x="202" y="235" width="1" height="88" fill="#f23645"/><rect x="200" y="237" width="5" height="65" fill="#f23645"/>
<rect x="210" y="250" width="1" height="68" fill="#089981"/><rect x="208" y="266" width="5" height="35" fill="#089981"/>
<rect x="217" y="265" width="1" height="150" fill="#f23645"/><rect x="215" y="266" width="5" height="111" fill="#f23645"/>
<rect x="225" y="314" width="1" height="65" fill="#089981"/><rect x="223" y="330" width="5" height="47" fill="#089981"/>
<rect x="233" y="195" width="1" height="180" fill="#089981"/><rect x="231" y="265" width="5" height="66" fill="#089981"/>
<rect x="241" y="227" width="1" height="70" fill="#089981"/><rect x="239" y="235" width="5" height="31" fill="#089981"/>
<rect x="249" y="226" width="1" height="48" fill="#f23645"/><rect x="247" y="235" width="5" height="5" fill="#f23645"/>
<rect x="256" y="196" width="1" height="51" fill="#089981"/><rect x="254" y="211" width="5" height="29" fill="#089981"/>
<rect x="264" y="183" width="1" height="71" fill="#f23645"/><rect x="262" y="211" width="5" height="25" fill="#f23645"/>
<rect x="272" y="213" width="1" height="92" fill="#f23645"/><rect x="270" y="235" width="5" height="48" fill="#f23645"/>
<rect x="280" y="227" width="1" height="98" fill="#f23645"/><rect x="278" y="282" width="5" height="31" fill="#f23645"/>
<rect x="288" y="273" width="1" height="52" fill="#089981"/><rect x="286" y="279" width="5" height="35" fill="#089981"/>
<rect x="295" y="231" width="1" height="63" fill="#089981"/><rect x="293" y="244" width="5" height="36" fill="#089981"/>
<rect x="303" y="238" width="1" height="49" fill="#f23645"/><rect x="301" y="244" width="5" height="36" fill="#f23645"/>
<rect x="311" y="233" width="1" height="81" fill="#089981"/><rect x="309" y="260" width="5" height="21" fill="#089981"/>
<rect x="319" y="225" width="1" height="37" fill="#089981"/><rect x="317" y="233" width="5" height="28" fill="#089981"/>
<rect x="327" y="218" width="1" height="59" fill="#f23645"/><rect x="325" y="233" width="5" height="22" fill="#f23645"/>
<rect x="334" y="20" width="1" height="252" fill="#089981"/><rect x="332" y="20" width="5" height="235" fill="#089981"/>
<rect x="342" y="20" width="1" height="83" fill="#f23645"/><rect x="340" y="20" width="5" height="18" fill="#f23645"/>
<rect x="350" y="20" width="1" height="39" fill="#f23645"/><rect x="348" y="38" width="5" height="11" fill="#f23645"/>
<rect x="358" y="45" width="1" height="80" fill="#f23645"/><rect x="356" y="47" width="5" height="65" fill="#f23645"/>
<rect x="366" y="83" width="1" height="79" fill="#f23645"/><rect x="364" y="112" width="5" height="15" fill="#f23645"/>
<rect x="373" y="115" width="1" height="80" fill="#f23645"/><rect x="371" y="127" width="5" height="14" fill="#f23645"/>
<rect x="381" y="48" width="1" height="106" fill="#089981"/><rect x="379" y="67" width="5" height="74" fill="#089981"/>
<rect x="389" y="20" width="1" height="100" fill="#f23645"/><rect x="387" y="67" width="5" height="37" fill="#f23645"/>
<rect x="397" y="90" width="1" height="45" fill="#f23645"/><rect x="395" y="103" width="5" height="20" fill="#f23645"/>
<rect x="404" y="109" width="1" height="49" fill="#f23645"/><rect x="402" y="121" width="5" height="16" fill="#f23645"/>
<rect x="412" y="86" width="1" height="67" fill="#089981"/><rect x="410" y="97" width="5" height="40" fill="#089981"/>
<rect x="420" y="87" width="1" height="105" fill="#f23645"/><rect x="418" y="97" width="5" height="67" fill="#f23645"/>
<rect x="428" y="149" width="1" height="36" fill="#f23645"/><rect x="426" y="164" width="5" height="9" fill="#f23645"/>
<rect x="436" y="133" width="1" height="58" fill="#089981"/><rect x="434" y="154" width="5" height="19" fill="#089981"/>
<rect x="443" y="117" width="1" height="46" fill="#089981"/><rect x="441" y="150" width="5" height="5" fill="#089981"/>
<rect x="451" y="118" width="1" height="40" fill="#089981"/><rect x="449" y="137" width="5" height="13" fill="#089981"/>
<rect x="459" y="112" width="1" height="32" fill="#089981"/><rect x="457" y="120" width="5" height="18" fill="#089981"/>
<rect x="467" y="92" width="1" height="71" fill="#089981"/><rect x="465" y="106" width="5" height="16" fill="#089981"/>
<rect x="475" y="87" width="1" height="70" fill="#f23645"/><rect x="473" y="105" width="5" height="49" fill="#f23645"/>
<rect x="482" y="133" width="1" height="88" fill="#089981"/><rect x="480" y="135" width="5" height="19" fill="#089981"/>
<rect x="490" y="126" width="1" height="81" fill="#f23645"/><rect x="488" y="135" width="5" height="62" fill="#f23645"/>
<rect x="498" y="185" width="1" height="70" fill="#f23645"/><rect x="496" y="196" width="5" height="41" fill="#f23645"/>
<rect x="506" y="208" width="1" height="39" fill="#089981"/><rect x="504" y="229" width="5" height="7" fill="#089981"/>
<rect x="514" y="225" width="1" height="22" fill="#089981"/><rect x="512" y="227" width="5" height="2" fill="#089981"/>
<rect x="521" y="216" width="1" height="29" fill="#f23645"/><rect x="519" y="227" width="5" height="9" fill="#f23645"/>
<rect x="529" y="214" width="1" height="80" fill="#f23645"/><rect x="527" y="236" width="5" height="7" fill="#f23645"/>
<rect x="537" y="178" width="1" height="72" fill="#089981"/><rect x="535" y="207" width="5" height="36" fill="#089981"/>
<rect x="545" y="180" width="1" height="35" fill="#089981"/><rect x="543" y="185" width="5" height="23" fill="#089981"/>
<rect x="552" y="182" width="1" height="33" fill="#f23645"/><rect x="550" y="185" width="5" height="28" fill="#f23645"/>
<rect x="560" y="206" width="1" height="29" fill="#f23645"/><rect x="558" y="212" width="5" height="19" fill="#f23645"/>
<rect x="568" y="222" width="1" height="22" fill="#f23645"/><rect x="566" y="229" width="5" height="9" fill="#f23645"/>
<rect x="576" y="228" width="1" height="38" fill="#f23645"/><rect x="574" y="237" width="5" height="15" fill="#f23645"/>
<rect x="584" y="233" width="1" height="31" fill="#089981"/><rect x="582" y="245" width="5" height="7" fill="#089981"/>
<rect x="591" y="242" width="1" height="94" fill="#f23645"/><rect x="589" y="245" width="5" height="48" fill="#f23645"/>
<rect x="599" y="287" width="1" height="98" fill="#f23645"/><rect x="597" y="292" width="5" height="42" fill="#f23645"/>
<rect x="607" y="312" width="1" height="225" fill="#f23645"/><rect x="605" y="333" width="5" height="109" fill="#f23645"/>
<rect x="615" y="374" width="1" height="70" fill="#089981"/><rect x="613" y="393" width="5" height="50" fill="#089981"/>
<rect x="623" y="360" width="1" height="53" fill="#089981"/><rect x="621" y="366" width="5" height="28" fill="#089981"/>
<rect x="630" y="341" width="1" height="48" fill="#089981"/><rect x="628" y="358" width="5" height="9" fill="#089981"/>
<rect x="638" y="345" width="1" height="78" fill="#f23645"/><rect x="636" y="358" width="5" height="42" fill="#f23645"/>
<rect x="646" y="396" width="1" height="74" fill="#f23645"/><rect x="644" y="399" width="5" height="24" fill="#f23645"/>
<rect x="654" y="359" width="1" height="67" fill="#089981"/><rect x="652" y="370" width="5" height="53" fill="#089981"/>
<rect x="662" y="351" width="1" height="52" fill="#f23645"/><rect x="660" y="370" width="5" height="13" fill="#f23645"/>
<rect x="669" y="353" width="1" height="67" fill="#f23645"/><rect x="667" y="382" width="5" height="27" fill="#f23645"/>
<rect x="677" y="405" width="1" height="23" fill="#f23645"/><rect x="675" y="408" width="5" height="2" fill="#f23645"/>
<rect x="685" y="385" width="1" height="30" fill="#089981"/><rect x="683" y="396" width="5" height="14" fill="#089981"/>
<rect x="693" y="371" width="1" height="57" fill="#089981"/><rect x="691" y="373" width="5" height="23" fill="#089981"/>
<rect x="700" y="302" width="1" height="112" fill="#089981"/><rect x="698" y="345" width="5" height="29" fill="#089981"/>
<rect x="708" y="343" width="1" height="69" fill="#f23645"/><rect x="706" y="345" width="5" height="41" fill="#f23645"/>
<rect x="716" y="378" width="1" height="97" fill="#f23645"/><rect x="714" y="384" width="5" height="57" fill="#f23645"/>
<rect x="724" y="422" width="1" height="41" fill="#f23645"/><rect x="722" y="440" width="5" height="3" fill="#f23645"/>
<rect x="732" y="429" width="1" height="21" fill="#089981"/><rect x="730" y="436" width="5" height="7" fill="#089981"/>
<rect x="739" y="432" width="1" height="21" fill="#f23645"/><rect x="737" y="436" width="5" height="3" fill="#f23645"/>
<rect x="747" y="415" width="1" height="38" fill="#089981"/><rect x="745" y="437" width="5" height="2" fill="#089981"/>
<rect x="755" y="421" width="1" height="28" fill="#089981"/><rect x="753" y="427" width="5" height="10" fill="#089981"/>
<rect x="763" y="408" width="1" height="51" fill="#f23645"/><rect x="761" y="427" width="5" height="2" fill="#f23645"/>
<rect x="771" y="417" width="1" height="36" fill="#089981"/><rect x="769" y="427" width="5" height="2" fill="#089981"/>
<rect x="778" y="417" width="1" height="38" fill="#f23645"/><rect x="776" y="426" width="5" height="21" fill="#f23645"/>
<rect x="786" y="438" width="1" height="15" fill="#f23645"/><rect x="784" y="446" width="5" height="7" fill="#f23645"/>
<rect x="794" y="451" width="1" height="62" fill="#f23645"/><rect x="792" y="452" width="5" height="25" fill="#f23645"/>
<rect x="802" y="473" width="1" height="71" fill="#f23645"/><rect x="800" y="475" width="5" height="40" fill="#f23645"/>
<rect x="810" y="455" width="1" height="67" fill="#089981"/><rect x="808" y="495" width="5" height="20" fill="#089981"/>
<rect x="817" y="470" width="1" height="37" fill="#089981"/><rect x="815" y="478" width="5" height="18" fill="#089981"/>
<rect x="825" y="455" width="1" height="35" fill="#089981"/><rect x="823" y="463" width="5" height="16" fill="#089981"/>
<rect x="833" y="442" width="1" height="56" fill="#f23645"/><rect x="831" y="463" width="5" height="6" fill="#f23645"/>
<rect x="841" y="449" width="1" height="31" fill="#f23645"/><rect x="839" y="467" width="5" height="3" fill="#f23645"/>
<rect x="848" y="463" width="1" height="39" fill="#f23645"/><rect x="846" y="469" width="5" height="19" fill="#f23645"/>
<rect x="856" y="437" width="1" height="66" fill="#089981"/><rect x="854" y="462" width="5" height="26" fill="#089981"/>
<rect x="864" y="426" width="1" height="41" fill="#089981"/><rect x="862" y="444" width="5" height="19" fill="#089981"/>
<rect x="872" y="434" width="1" height="36" fill="#f23645"/><rect x="870" y="444" width="5" height="18" fill="#f23645"/>
<rect x="880" y="453" width="1" height="47" fill="#f23645"/><rect x="878" y="461" width="5" height="39" fill="#f23645"/>
<rect x="887" y="490" width="1" height="21" fill="#f23645"/><rect x="885" y="498" width="5" height="2" fill="#f23645"/>
<rect x="895" y="488" width="1" height="18" fill="#089981"/><rect x="893" y="492" width="5" height="7" fill="#089981"/>
<rect x="903" y="491" width="1" height="26" fill="#f23645"/><rect x="901" y="493" width="5" height="19" fill="#f23645"/>
<rect x="911" y="491" width="1" height="33" fill="#089981"/><rect x="909" y="493" width="5" height="18" fill="#089981"/>
<rect x="919" y="482" width="1" height="27" fill="#f23645"/><rect x="917" y="493" width="5" height="3" fill="#f23645"/>
<rect x="926" y="479" width="1" height="33" fill="#f23645"/><rect x="924" y="495" width="5" height="6" fill="#f23645"/>
<rect x="934" y="466" width="1" height="42" fill="#089981"/><rect x="932" y="477" width="5" height="24" fill="#089981"/>
<rect x="942" y="438" width="1" height="46" fill="#089981"/><rect x="940" y="474" width="5" height="3" fill="#089981"/>
<rect x="950" y="444" width="1" height="33" fill="#089981"/><rect x="948" y="448" width="5" height="27" fill="#089981"/>
<rect x="958" y="371" width="1" height="79" fill="#089981"/><rect x="956" y="382" width="5" height="67" fill="#089981"/>
<rect x="965" y="361" width="1" height="68" fill="#f23645"/><rect x="963" y="382" width="5" height="39" fill="#f23645"/>
<rect x="973" y="389" width="1" height="40" fill="#089981"/><rect x="971" y="409" width="5" height="12" fill="#089981"/>
<rect x="981" y="407" width="1" height="50" fill="#f23645"/><rect x="979" y="410" width="5" height="12" fill="#f23645"/>
<rect x="989" y="393" width="1" height="41" fill="#089981"/><rect x="987" y="414" width="5" height="7" fill="#089981"/>
<rect x="996" y="386" width="1" height="28" fill="#089981"/><rect x="994" y="387" width="5" height="27" fill="#089981"/>
<rect x="606" y="536" width="1123" height="2" fill="#9c27b0"/>
<rect x="964" y="360" width="765" height="2" fill="#9c27b0"/>
</g>
</g>
<g><circle cx="996.4" cy="737.4" r="9.8" fill="#fff" stroke="#9c27b0" stroke-width="1.5"/>
<path transform="translate(996.4,737.4)" d="M3.6 -5.2 L-4.0 0.9 L-0.3 0.9 L-3.6 5.4 L4.0 -0.7 L0.3 -0.7 Z" fill="#9c27b0" stroke="#9c27b0" stroke-width="0.5" stroke-linejoin="round"/></g>
<g transform="translate(996.4,762)"><circle r="10" fill="#fff" stroke="#f23645" stroke-width="1.5"/><g clip-path="url(#flagclip)"><rect x="-9" y="-9" width="18" height="18" fill="#fff"/><rect x="-9" y="-8.5" width="18" height="3.4" fill="#ef5350"/><rect x="-9" y="-1.6" width="18" height="3.1" fill="#ef5350"/><rect x="-9" y="4.5" width="18" height="3.2" fill="#ef5350"/><rect x="-9" y="-9" width="10.8" height="10.5" fill="#1e88e5"/><rect x="-6.4" y="-5.6" width="1.1" height="0.9" fill="#dbeafb"/><rect x="-4.1" y="-5.6" width="1.1" height="0.9" fill="#dbeafb"/><rect x="-1.8" y="-5.6" width="1.1" height="0.9" fill="#dbeafb"/><rect x="0.2" y="-5.6" width="1.1" height="0.9" fill="#dbeafb"/><rect x="-6.4" y="-3.2" width="1.1" height="0.9" fill="#dbeafb"/><rect x="-4.1" y="-3.2" width="1.1" height="0.9" fill="#dbeafb"/><rect x="-1.8" y="-3.2" width="1.1" height="0.9" fill="#dbeafb"/><rect x="0.2" y="-3.2" width="1.1" height="0.9" fill="#dbeafb"/><rect x="-6.4" y="-0.8" width="1.1" height="0.9" fill="#dbeafb"/><rect x="-4.1" y="-0.8" width="1.1" height="0.9" fill="#dbeafb"/><rect x="-1.8" y="-0.8" width="1.1" height="0.9" fill="#dbeafb"/><rect x="0.2" y="-0.8" width="1.1" height="0.9" fill="#dbeafb"/></g></g>
<g transform="translate(1035.1,762)"><circle r="10" fill="#fff" stroke="#f23645" stroke-width="1.5"/><g clip-path="url(#flagclip)"><rect x="-9" y="-9" width="18" height="18" fill="#fff"/><rect x="-9" y="-8.5" width="18" height="3.4" fill="#ef5350"/><rect x="-9" y="-1.6" width="18" height="3.1" fill="#ef5350"/><rect x="-9" y="4.5" width="18" height="3.2" fill="#ef5350"/><rect x="-9" y="-9" width="10.8" height="10.5" fill="#1e88e5"/><rect x="-6.4" y="-5.6" width="1.1" height="0.9" fill="#dbeafb"/><rect x="-4.1" y="-5.6" width="1.1" height="0.9" fill="#dbeafb"/><rect x="-1.8" y="-5.6" width="1.1" height="0.9" fill="#dbeafb"/><rect x="0.2" y="-5.6" width="1.1" height="0.9" fill="#dbeafb"/><rect x="-6.4" y="-3.2" width="1.1" height="0.9" fill="#dbeafb"/><rect x="-4.1" y="-3.2" width="1.1" height="0.9" fill="#dbeafb"/><rect x="-1.8" y="-3.2" width="1.1" height="0.9" fill="#dbeafb"/><rect x="0.2" y="-3.2" width="1.1" height="0.9" fill="#dbeafb"/><rect x="-6.4" y="-0.8" width="1.1" height="0.9" fill="#dbeafb"/><rect x="-4.1" y="-0.8" width="1.1" height="0.9" fill="#dbeafb"/><rect x="-1.8" y="-0.8" width="1.1" height="0.9" fill="#dbeafb"/><rect x="0.2" y="-0.8" width="1.1" height="0.9" fill="#dbeafb"/></g></g>
<text x="1737" y="86" fill="#131722" font-size="12.4" textLength="35.7" lengthAdjust="spacingAndGlyphs">0.3200</text>
<text x="1737" y="141" fill="#131722" font-size="12.4" textLength="35.7" lengthAdjust="spacingAndGlyphs">0.3100</text>
<text x="1737" y="197" fill="#131722" font-size="12.4" textLength="35.7" lengthAdjust="spacingAndGlyphs">0.3000</text>
<text x="1737" y="253" fill="#131722" font-size="12.4" textLength="35.7" lengthAdjust="spacingAndGlyphs">0.2900</text>
<text x="1737" y="308" fill="#131722" font-size="12.4" textLength="35.7" lengthAdjust="spacingAndGlyphs">0.2800</text>
<text x="1737" y="364" fill="#131722" font-size="12.4" textLength="35.7" lengthAdjust="spacingAndGlyphs">0.2700</text>
<text x="1737" y="419" fill="#131722" font-size="12.4" textLength="35.7" lengthAdjust="spacingAndGlyphs">0.2600</text>
<text x="1737" y="475" fill="#131722" font-size="12.4" textLength="35.7" lengthAdjust="spacingAndGlyphs">0.2500</text>
<text x="1737" y="531" fill="#131722" font-size="12.4" textLength="35.7" lengthAdjust="spacingAndGlyphs">0.2400</text>
<text x="1737" y="586" fill="#131722" font-size="12.4" textLength="35.7" lengthAdjust="spacingAndGlyphs">0.2300</text>
<text x="1737" y="642" fill="#131722" font-size="12.4" textLength="35.7" lengthAdjust="spacingAndGlyphs">0.2200</text>
<text x="1737" y="698" fill="#131722" font-size="12.4" textLength="35.7" lengthAdjust="spacingAndGlyphs">0.2100</text>
<text x="1737" y="753" fill="#131722" font-size="12.4" textLength="35.7" lengthAdjust="spacingAndGlyphs">0.2000</text>
<rect x="1729" y="353" width="49" height="17" rx="2" fill="#9c27b0"/>
<text x="1737" y="365.9" fill="#fff" font-weight="bold" textLength="35.5" lengthAdjust="spacingAndGlyphs">0.2696</text>
<rect x="1729" y="379" width="60" height="31" rx="2" fill="#089981"/>
<text x="1737" y="391.7" fill="#fff" font-weight="bold" textLength="35.5" lengthAdjust="spacingAndGlyphs">0.2650</text>
<text x="1737" y="405.9" fill="#fff" fill-opacity="0.82" font-weight="bold" textLength="46.3" lengthAdjust="spacingAndGlyphs">13:24:38</text>
<rect x="1729" y="529" width="49" height="17" rx="2" fill="#9c27b0"/>
<text x="1737" y="541.7" fill="#fff" font-weight="bold" textLength="35.5" lengthAdjust="spacingAndGlyphs">0.2380</text>
<rect x="1729" y="629" width="49" height="17" rx="2" fill="#bf8c00"/>
<text x="1737" y="641.7" fill="#fff" font-weight="bold" textLength="35.5" lengthAdjust="spacingAndGlyphs">0.2200</text>
<g clip-path="url(#axisclip)">
<rect x="1729" y="746" width="58" height="17" rx="2" fill="#ff9850"/>
<text x="1737" y="759" fill="#131722" textLength="44.6" lengthAdjust="spacingAndGlyphs">81.085M</text>
<rect x="1729" y="763" width="58" height="17" rx="2" fill="#26a69a"/>
<text x="1737" y="776" fill="#fff" textLength="44.6" lengthAdjust="spacingAndGlyphs">16.388M</text>
</g>
<text x="86.7" y="793" fill="#131722" font-size="12.4" textLength="12.6" lengthAdjust="spacingAndGlyphs">12</text>
<text x="233.2" y="793" fill="#131722" font-size="12.4" textLength="15.7" lengthAdjust="spacingAndGlyphs">Jul</text>
<text x="359.7" y="793" fill="#131722" font-size="12.4" textLength="12.6" lengthAdjust="spacingAndGlyphs">17</text>
<text x="472.2" y="793" fill="#131722" font-size="12.4" textLength="19.5" lengthAdjust="spacingAndGlyphs">Aug</text>
<text x="577.7" y="793" fill="#131722" font-size="12.4" textLength="12.6" lengthAdjust="spacingAndGlyphs">14</text>
<text x="714.5" y="793" fill="#131722" font-size="12.4" textLength="19.0" lengthAdjust="spacingAndGlyphs">Sep</text>
<text x="849.7" y="793" fill="#131722" font-size="12.4" textLength="12.6" lengthAdjust="spacingAndGlyphs">18</text>
<text x="948.9" y="793" fill="#131722" font-size="12.4" textLength="18.3" lengthAdjust="spacingAndGlyphs">Oct</text>
<text x="1067.7" y="793" fill="#131722" font-size="12.4" textLength="12.6" lengthAdjust="spacingAndGlyphs">16</text>
<text x="1189.0" y="793" fill="#131722" font-size="12.4" textLength="20.0" lengthAdjust="spacingAndGlyphs">Nov</text>
<text x="1285.7" y="793" fill="#131722" font-size="12.4" textLength="12.6" lengthAdjust="spacingAndGlyphs">13</text>
<text x="1423.3" y="793" fill="#131722" font-size="12.4" textLength="19.4" lengthAdjust="spacingAndGlyphs">Dec</text>
<text x="1558.7" y="793" fill="#131722" font-size="12.4" textLength="12.6" lengthAdjust="spacingAndGlyphs">18</text>
<text x="1660.6" y="793" fill="#131722" font-size="12.4" font-weight="bold" textLength="27.4" lengthAdjust="spacingAndGlyphs">2024</text>
<g transform="translate(10,813.0) scale(0.544)" fill="#131722"><path d="M14 22H7V11H0V4h14v18zM28 22h-8l7.5-18h8L28 22z"/><circle cx="20" cy="8" r="4"/></g>
<text x="33.3" y="825" fill="#131722" font-size="13" textLength="69.9" lengthAdjust="spacingAndGlyphs">TradingView</text>
</svg>
</body></html>
